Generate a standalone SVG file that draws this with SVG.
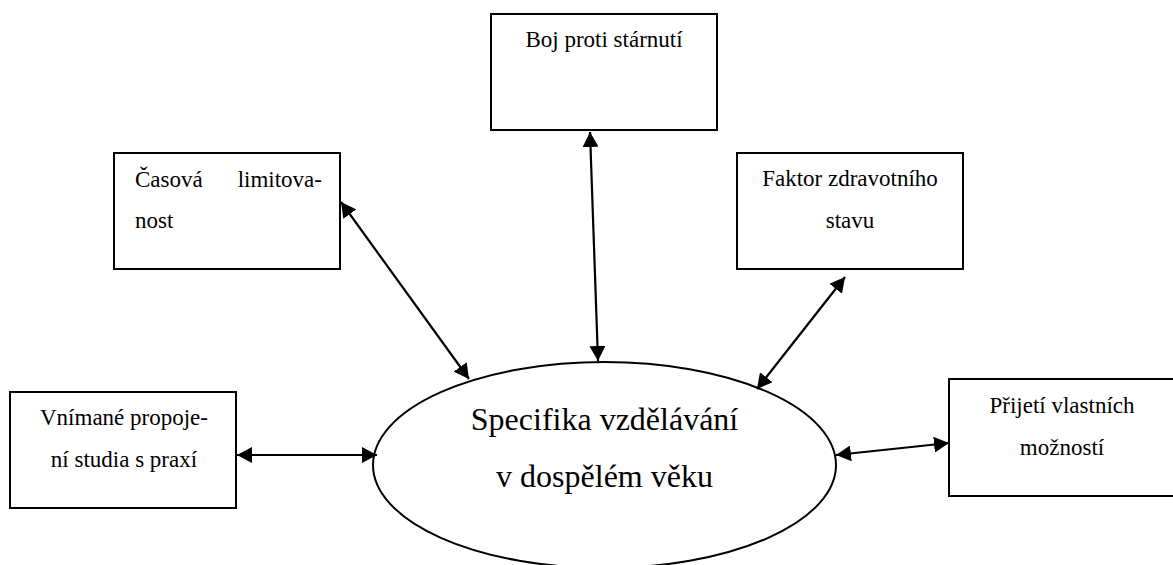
<svg xmlns="http://www.w3.org/2000/svg" width="1173" height="565" viewBox="0 0 1173 565">
<style>
.box{fill:#fff;stroke:#000;stroke-width:2}
text{font-family:'Liberation Serif','Times New Roman',Tinos,'Nimbus Roman','DejaVu Serif',serif;fill:#000}
.t{font-size:23px}
.big{font-size:32px}
.c{stroke:#000;stroke-width:2.2;fill:none;marker-start:url(#ah);marker-end:url(#ah)}
</style>
<defs>
<marker id="ah" viewBox="0 0 10 10" refX="10" refY="5" markerWidth="15" markerHeight="16" markerUnits="userSpaceOnUse" orient="auto-start-reverse" preserveAspectRatio="none">
<path d="M0,0 L10,5 L0,10 z" fill="#000"/>
</marker>
</defs>
<rect width="1173" height="565" fill="#fff"/>
<g id="center">
<ellipse cx="604.5" cy="465" rx="231.5" ry="103" fill="#fff" stroke="#000" stroke-width="2"/>
<text class="big" x="604.5" y="430" text-anchor="middle">Specifika vzdělávání</text>
<text class="big" x="604.5" y="487" text-anchor="middle">v dospělém věku</text>
</g>
<g id="boj">
<rect class="box" x="491" y="14" width="226" height="116"/>
<text class="t" x="604" y="47" text-anchor="middle">Boj proti stárnutí</text>
</g>
<g id="casova">
<rect class="box" x="114" y="153" width="226" height="116"/>
<text class="t" x="135" y="187">Časová</text>
<text class="t" x="322" y="187" text-anchor="end">limitova-</text>
<text class="t" x="135" y="228">nost</text>
</g>
<g id="faktor">
<rect class="box" x="737" y="153" width="226" height="116"/>
<text class="t" x="850" y="186" text-anchor="middle">Faktor zdravotního</text>
<text class="t" x="850" y="228" text-anchor="middle">stavu</text>
</g>
<g id="vnimane">
<rect class="box" x="10" y="392" width="226" height="116"/>
<text class="t" x="124" y="425" text-anchor="middle">Vnímané propoje-</text>
<text class="t" x="124" y="467" text-anchor="middle">ní studia s praxí</text>
</g>
<g id="prijeti">
<rect class="box" x="949" y="379" width="230" height="117"/>
<text class="t" x="1062" y="413" text-anchor="middle">Přijetí vlastních</text>
<text class="t" x="1062" y="455" text-anchor="middle">možností</text>
</g>
<g id="connectors">
<line class="c" x1="341" y1="202" x2="469" y2="379"/>
<line class="c" x1="590" y1="132" x2="598" y2="361"/>
<line class="c" x1="845" y1="277" x2="757" y2="389"/>
<line class="c" x1="237" y1="455" x2="377" y2="455"/>
<line class="c" x1="836" y1="455" x2="949" y2="443"/>
</g>
</svg>
